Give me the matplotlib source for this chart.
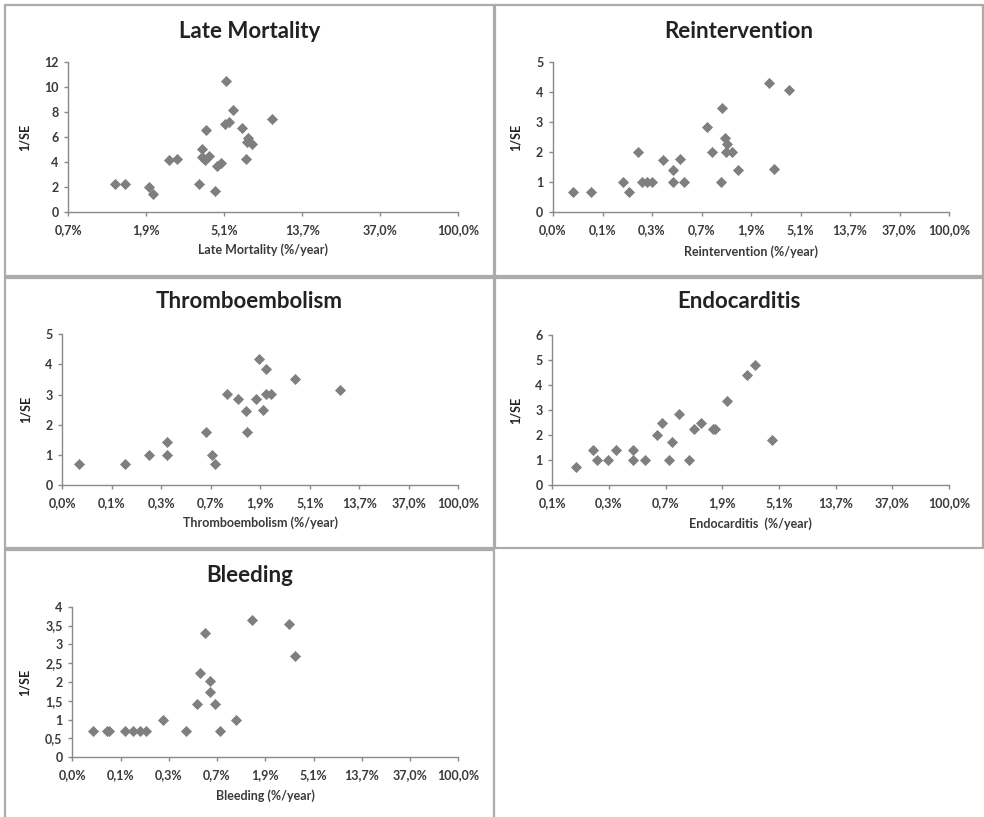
import matplotlib
matplotlib.use("Agg")
import matplotlib.pyplot as plt
from matplotlib.patches import Rectangle
import numpy as np

plt.rcParams['font.family'] = ['Lato', 'DejaVu Sans']

# ---------------- data (x = ln(rate), y = 1/SE) ----------------
titles = ["Late Mortality", "Reintervention", "Thromboembolism", "Endocarditis", "Bleeding"]
xlabels = ["Late Mortality (%/year)", "Reintervention (%/year)",
           "Thromboembolism (%/year)", "Endocarditis  (%/year)", "Bleeding (%/year)"]

mort_x = [-4.40, -4.27, -3.96, -3.91, -3.71, -3.61, -3.33, -3.29, -3.23, -3.28, -3.25, -3.19,
          -3.12, -3.09, -3.04, -2.98, -2.99, -2.94, -2.89, -2.77, -2.69, -2.71, -2.65, -2.72, -2.39]
mort_y = [2.24, 2.24, 2.05, 1.44, 4.16, 4.24, 2.27, 5.09, 6.59, 4.45, 4.19, 4.5,
          1.73, 3.73, 3.92, 10.53, 7.09, 7.23, 8.16, 6.75, 5.97, 5.6, 5.47, 4.24, 7.44]

reint_x = [-7.60, -7.24, -6.59, -6.47, -6.28, -6.21, -6.10, -6.01, -5.77, -5.58, -5.57, -5.43,
           -5.36, -4.88, -4.79, -4.61, -4.58, -4.53, -4.48, -4.50, -4.39, -4.26, -3.64, -3.53, -3.23]
reint_y = [0.69, 0.69, 1.0, 0.69, 2.01, 1.0, 1.0, 1.0, 1.73, 1.0, 1.4, 1.76,
           1.0, 2.83, 2.01, 1.0, 3.48, 2.46, 2.27, 2.01, 2.01, 1.4, 4.32, 1.43, 4.08]

thromb_x = [-7.66, -6.73, -6.25, -5.89, -5.88, -5.10, -4.97, -4.92, -4.67, -4.45, -4.28, -4.26,
            -4.09, -4.02, -3.95, -3.89, -3.89, -3.79, -3.29, -2.40]
thromb_y = [0.69, 0.69, 1.0, 1.0, 1.42, 1.75, 1.0, 0.69, 3.02, 2.85, 2.46, 1.75,
            2.85, 4.17, 2.5, 3.84, 3.02, 3.02, 3.53, 3.15]

endo_x = [-6.59, -6.28, -6.21, -6.02, -5.88, -5.57, -5.57, -5.36, -5.15, -5.07, -4.89, -4.94,
          -4.77, -4.59, -4.50, -4.37, -4.17, -4.13, -3.92, -3.57, -3.42, -3.12]
endo_y = [0.72, 1.41, 1.0, 1.0, 1.41, 1.41, 1.0, 1.0, 2.01, 2.47, 1.73, 1.0,
          2.83, 1.0, 2.25, 2.47, 2.25, 2.25, 3.36, 4.41, 4.79, 1.79]

bleed_x = [-7.57, -7.29, -7.24, -6.90, -6.74, -6.59, -6.48, -6.11, -5.64, -5.42, -5.35, -5.26,
           -5.14, -5.15, -5.04, -4.93, -4.60, -4.27, -3.50, -3.39]
bleed_y = [0.70, 0.70, 0.70, 0.70, 0.70, 0.70, 0.70, 1.0, 0.70, 1.42, 2.24, 3.31,
           2.03, 1.74, 1.42, 0.70, 1.0, 3.65, 3.53, 2.70]

xt_mort = ["0,7%", "1,9%", "5,1%", "13,7%", "37,0%", "100,0%"]
xt_nine = ["0,0%", "0,1%", "0,3%", "0,7%", "1,9%", "5,1%", "13,7%", "37,0%", "100,0%"]
xt_endo = ["0,1%", "0,3%", "0,7%", "1,9%", "5,1%", "13,7%", "37,0%", "100,0%"]

yt_mort = [0, 2, 4, 6, 8, 10, 12]
yt_five = [0, 1, 2, 3, 4, 5]
yt_endo = [0, 1, 2, 3, 4, 5, 6]
yt_bleed = [0, 0.5, 1, 1.5, 2, 2.5, 3, 3.5, 4]

series = [
    (mort_x, mort_y, xt_mort, yt_mort),
    (reint_x, reint_y, xt_nine, yt_five),
    (thromb_x, thromb_y, xt_nine, yt_five),
    (endo_x, endo_y, xt_endo, yt_endo),
    (bleed_x, bleed_y, xt_nine, yt_bleed),
]

# ---------------- layout (pixels) ----------------
W, H = 984, 817
fig = plt.figure(figsize=(W / 100, H / 100), dpi=100)
fig.patch.set_facecolor("white")

panels = [(5, 494, 5, 276), (495, 983, 5, 276), (5, 494, 278, 548),
          (495, 983, 278, 548), (5, 494, 550, 830)]
axes_px = [(68.3, 458.3, 62.3, 212.3), (553, 949, 62.3, 212.3), (62.3, 458.3, 334.3, 485),
           (552.3, 949, 335, 485), (72.3, 458.3, 606.7, 757.3)]
title_y = [31, 31, 302, 302, 575]
xlabel_y = [250, 252, 523, 524, 796]
ylabel_x = [25, 516, 26, 516, 25]

grey_axis = "#898989"
marker_c = "#7f7f7f"
text_c = "#3a3a3a"

for (px0, px1, py0, py1) in panels:
    fig.patches.append(Rectangle((px0 / W, 1 - py1 / H), (px1 - px0) / W, (py1 - py0) / H,
                                 transform=fig.transFigure, fill=False,
                                 edgecolor="#ababab", linewidth=1.6))

for i, (xs, ys, xt, yt) in enumerate(series):
    x0, x1, yt0, yb0 = axes_px[i]
    ax = fig.add_axes([x0 / W, 1 - yb0 / H, (x1 - x0) / W, (yb0 - yt0) / H])
    ax.set_facecolor("none")
    ax.scatter(xs, ys, marker="D", s=32, color=marker_c, linewidths=0, zorder=3, clip_on=False)
    n = len(xt)
    pos = np.arange(-(n - 1), 1)
    ax.set_xlim(pos[0], pos[-1])
    ax.set_ylim(yt[0], yt[-1])
    ax.set_xticks(pos)
    ax.set_xticklabels(xt)
    ax.set_yticks(yt)
    ax.set_yticklabels([("%g" % v).replace(".", ",") for v in yt])
    for s in ["top", "right"]:
        ax.spines[s].set_visible(False)
    for s in ["left", "bottom"]:
        ax.spines[s].set_color(grey_axis)
        ax.spines[s].set_linewidth(1.0)
    ax.tick_params(axis="both", direction="out", length=3, width=1.0, color=grey_axis,
                   labelsize=9, labelcolor=text_c)
    ax.tick_params(axis="x", pad=5.5)
    ax.tick_params(axis="y", pad=4)
    for lab in ax.get_xticklabels() + ax.get_yticklabels():
        lab.set_fontweight("bold")

    px0, px1, py0, py1 = panels[i]
    fig.text(((px0 + px1) / 2) / W, 1 - title_y[i] / H, titles[i], ha="center", va="center",
             fontsize=16, fontweight="bold", color="#222222")
    fig.text(((x0 + x1) / 2) / W, 1 - xlabel_y[i] / H, xlabels[i], ha="center", va="center",
             fontsize=9, fontweight="bold", color=text_c)
    fig.text(ylabel_x[i] / W, 1 - ((yt0 + yb0) / 2) / H, "1/SE", ha="center", va="center",
             rotation=90, fontsize=9, fontweight="bold", color="#222222")

fig.savefig("out.png", dpi=100, facecolor="white")
